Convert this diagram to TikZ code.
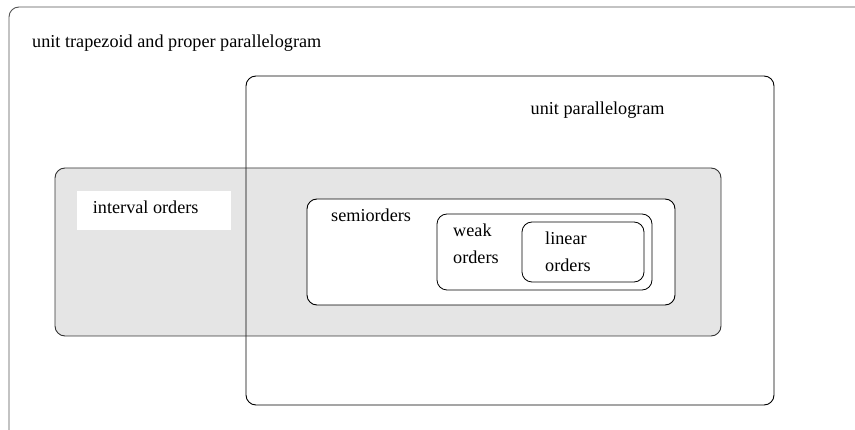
\documentclass[tikz,border=0pt]{standalone}
\usepackage{fontspec}
\setmainfont{Liberation Serif}
\definecolor{boxgray}{HTML}{E5E5E5}
\definecolor{edgegray}{HTML}{555555}
\tikzset{
  setbox/.style={draw=black, line width=0.9pt, rounded corners=10pt},
  lbl/.style={anchor=base west, inner sep=0pt, font=\fontsize{18.2}{22}\selectfont}
}
\begin{document}
\begin{tikzpicture}[x=1pt,y=-1pt]
\useasboundingbox (0,0) rectangle (855,430);
\clip (0,0) rectangle (855,430);
\fill[white] (0,0) rectangle (855,430);
% outer set
\draw[setbox, draw=edgegray] (9,7) rectangle (880,445);
% interval orders region (gray)
\fill[boxgray, rounded corners=10pt] (55,168) rectangle (721,336);
% unit parallelogram
\draw[setbox] (246,76) rectangle (774,405);
\draw[setbox, draw=black!80] (55,168) rectangle (721,336);
% white label patch
\fill[white] (77,191) rectangle (231,230);
% semiorders
\draw[setbox, fill=white] (307,199) rectangle (675,305);
% weak orders
\draw[setbox, line width=0.8pt] (437,214) rectangle (652,290);
% linear orders
\draw[setbox, line width=0.8pt] (522,222) rectangle (644,282);
% labels
\node[lbl] (tUT) at (32,47.5) {unit trapezoid and proper parallelogram};
\node[lbl] (tUP) at (530.5,115) {unit parallelogram};
\node[lbl] (tIO) at (92.7,213.3) {interval orders};
\node[lbl] (tSO) at (331,221.7) {semiorders};
\node[lbl] (tW1) at (453,236.7) {weak};
\node[lbl] (tW2) at (453,263.3) {orders};
\node[lbl] (tL1) at (545,244.3) {linear};
\node[lbl] (tL2) at (545,271.7) {orders};
\end{tikzpicture}
\end{document}
